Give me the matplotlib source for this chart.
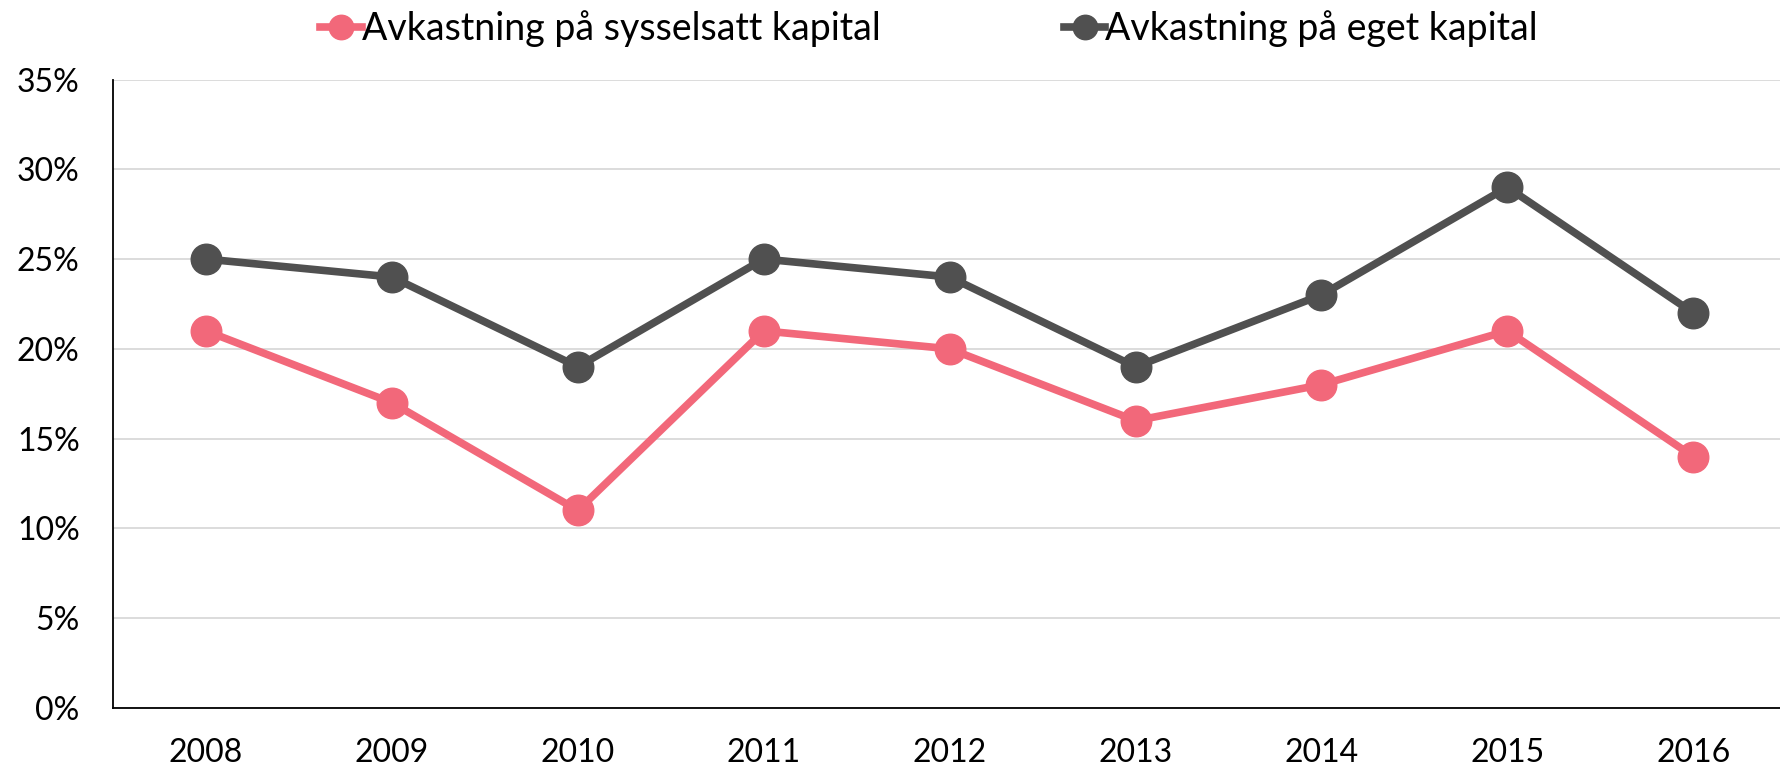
#!/usr/bin/env python3

import matplotlib
matplotlib.use('Agg')
import matplotlib.pyplot as plt
import numpy as np

years = ['2008', '2009', '2010', '2011', '2012', '2013', '2014', '2015', '2016']
sysselsatt = [21, 17, 11, 21, 20, 16, 18, 21, 14]
eget = [25, 24, 19, 25, 24, 19, 23, 29, 22]
yticks = [0, 5, 10, 15, 20, 25, 30, 35]

PINK = '#F2687A'
DARK = '#505050'


def main():
    plt.rcParams['font.family'] = ['Lato', 'DejaVu Sans']
    fig = plt.figure(figsize=(17.8, 7.72), dpi=100)
    ax = fig.add_axes([0.0635, 0.083, 0.94, 0.814])

    x = np.arange(len(years))
    ax.plot(x, sysselsatt, color=PINK, lw=5.5, marker='o', ms=22,
            label='Avkastning på sysselsatt kapital', zorder=3)
    ax.plot(x, eget, color=DARK, lw=5.5, marker='o', ms=22,
            label='Avkastning på eget kapital', zorder=3)

    ax.set_xlim(-0.5, 8.5)
    ax.set_ylim(0, 35)
    ax.set_xticks(x)
    ax.set_xticklabels(years)
    ax.set_yticks(yticks)
    ax.set_yticklabels([f'{v}%' for v in yticks])
    ax.tick_params(axis='both', length=0, labelsize=23)
    ax.tick_params(axis='y', pad=24)
    ax.tick_params(axis='x', pad=22)

    ax.grid(axis='y', color='#D9D9D9', lw=1.3)
    ax.set_axisbelow(True)
    for s in ['top', 'right']:
        ax.spines[s].set_visible(False)
    for s in ['left', 'bottom']:
        ax.spines[s].set_color('black')
        ax.spines[s].set_linewidth(1.3)

    fig.legend(loc='upper center', bbox_to_anchor=(0.522, 1.03), ncol=2,
               frameon=False, fontsize=27, handlelength=1.1,
               handletextpad=0.0, columnspacing=4.9, markerscale=0.8)

    fig.savefig('out.png', dpi=100)


if __name__ == '__main__':
    main()
